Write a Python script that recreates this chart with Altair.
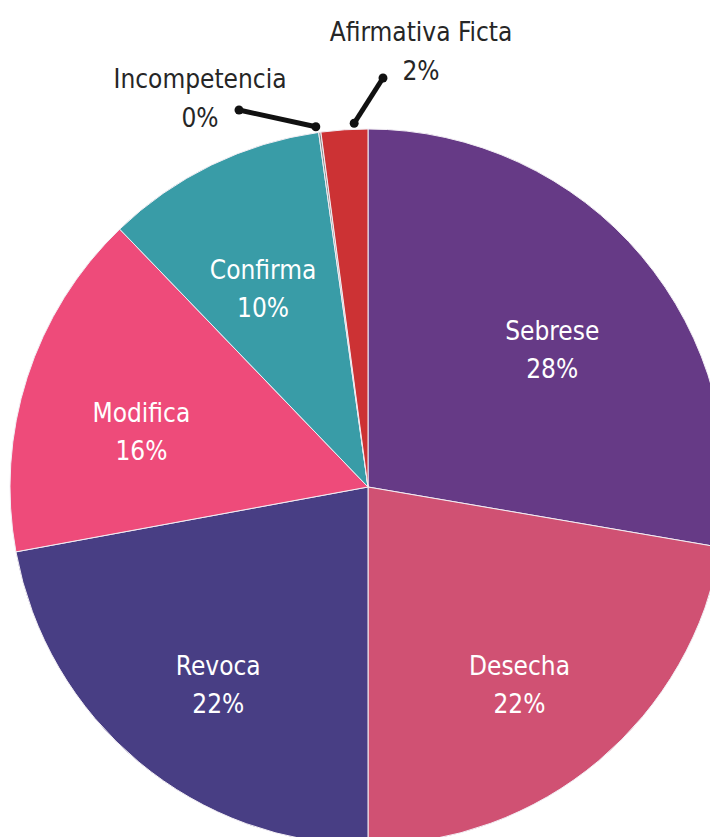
import math
import altair as alt
import pandas as pd

# ---- data ----
categories = ["Sebrese", "Desecha", "Revoca", "Modifica", "Confirma", "Incompetencia", "Afirmativa Ficta"]
values = [27.7, 22.3, 22.1, 15.7, 10.0, 0.1, 2.1]
pct_labels = ["28%", "22%", "22%", "16%", "10%", "0%", "2%"]
colors = ["#663a86", "#d05173", "#483e84", "#ee4b7a", "#399ca7", "#8c8c8c", "#cc3234"]
outside = [False, False, False, False, False, True, True]

# ---- layout ----
W, H = 702, 829
CX, CY, R = 360, 479, 358
label_radius = [241, 235, 234, 238, 240, 0, 0]
FONT = "DejaVu Sans Condensed, Liberation Sans Narrow, sans-serif"
FS = 26
# outside label anchors (text centre x, baseline of first line) and leader outer ends
out_text_pos = {"Incompetencia": (192, 80), "Afirmativa Ficta": (413, 33)}
leader_outer = {"Incompetencia": (231, 102), "Afirmativa Ficta": (375, 70)}
leader_shift_deg = {"Incompetencia": -0.5, "Afirmativa Ficta": 1.6}
LINE_H = 38
OUT_LH = 39

df = pd.DataFrame({
    "category": categories,
    "value": values,
    "order": list(range(len(categories))),
    "lr": label_radius,
    "inner": [f"{c}\n{p}" if not o else "" for c, p, o in zip(categories, pct_labels, outside)],
})

# leader lines: inner end near slice mid angle just outside the pie
total = sum(values)
cum = 0.0
mids = {}
for c, v in zip(categories, values):
    mids[c] = (cum + v / 2) / total * 2 * math.pi
    cum += v

lead_rows, text_rows = [], []
for c, p, o in zip(categories, pct_labels, outside):
    if not o:
        continue
    a = mids[c] + math.radians(leader_shift_deg[c])
    ix, iy = CX + (R + 6) * math.sin(a), CY - (R + 6) * math.cos(a)
    ox, oy = leader_outer[c]
    lead_rows += [{"g": c, "x": ix, "y": iy}, {"g": c, "x": ox, "y": oy}]
    tx, ty = out_text_pos[c]
    text_rows += [{"t": c, "x": tx, "y": ty}, {"t": p, "x": tx, "y": ty + OUT_LH}]
lead_df = pd.DataFrame(lead_rows)
txt_df = pd.DataFrame(text_rows)

xs = alt.Scale(domain=[0, W], nice=False, zero=False)
ys = alt.Scale(domain=[0, H], nice=False, zero=False, reverse=True)

color = alt.Color("category:N", scale=alt.Scale(domain=categories, range=colors), legend=None)

arcs = alt.Chart(df).mark_arc(outerRadius=R, stroke="#f2eef4", strokeWidth=1).encode(
    theta=alt.Theta("value:Q", stack=True),
    color=color,
    order=alt.Order("order:Q"),
    x=alt.value(CX),
    y=alt.value(CY),
)

inner_text = alt.Chart(df).transform_window(
    cum="sum(value)", sort=[alt.SortField("order")], frame=[None, 0]
).transform_calculate(
    mid="datum.cum - datum.value / 2"
).mark_text(
    font=FONT, fontSize=FS, color="white", lineBreak="\n", lineHeight=LINE_H,
    align="center", baseline="middle",
).encode(
    theta=alt.Theta("mid:Q", stack=None),
    radius=alt.Radius("lr:Q", scale=None),
    text="inner:N",
    x=alt.value(CX),
    y=alt.value(CY),
)

leaders = alt.Chart(lead_df).mark_line(color="#111111", strokeWidth=5).encode(
    x=alt.X("x:Q", scale=xs, axis=None),
    y=alt.Y("y:Q", scale=ys, axis=None),
    detail="g:N",
)
dots = alt.Chart(lead_df).mark_circle(color="#111111", size=80, opacity=1).encode(
    x=alt.X("x:Q", scale=xs, axis=None),
    y=alt.Y("y:Q", scale=ys, axis=None),
)
out_text = alt.Chart(txt_df).mark_text(
    font=FONT, fontSize=FS, color="#262626", align="center", baseline="alphabetic",
).encode(
    x=alt.X("x:Q", scale=xs, axis=None),
    y=alt.Y("y:Q", scale=ys, axis=None),
    text="t:N",
)

chart = alt.layer(arcs, inner_text, leaders, dots, out_text).properties(
    width=W, height=H, padding=0, autosize="none"
).configure_view(stroke=None)

chart.save("out.html", embed_options={"renderer": "svg", "actions": False})
